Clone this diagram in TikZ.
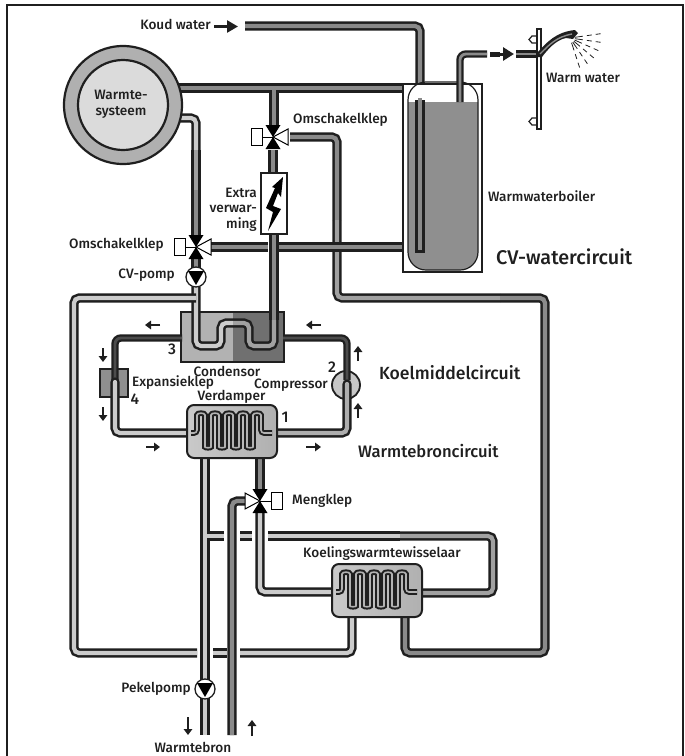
\documentclass[tikz,border=0pt]{standalone}
\usepackage{fontspec}
\setmainfont{Fira Sans Medium}
\usetikzlibrary{positioning, shapes, arrows.meta}

\definecolor{coreD}{gray}{0.54}
\definecolor{coreM}{gray}{0.63}
\definecolor{coreL}{gray}{0.80}
\definecolor{coreK}{gray}{0.30}
\definecolor{lineK}{gray}{0.12}

\tikzset{
  pipe/.style={draw=lineK, line width=2.5pt, double=#1, double distance=4.2pt, rounded corners=5pt},
  pipe/.default=coreD,
  thinpipe/.style={draw=lineK, line width=2.3pt, double=#1, double distance=2.8pt, rounded corners=6pt},
  coil/.style={draw=lineK, line width=2pt, double=gray!60, double distance=1.6pt, rounded corners=3pt},
  label/.style={font=\fontsize{13.6pt}{15.6pt}\selectfont, inner sep=0pt, text=lineK},
  biglabel/.style={font=\fontsize{16.6pt}{19pt}\selectfont, inner sep=0pt, text=lineK},
  cijfer/.style={font=\fontsize{15.5pt}{17pt}\selectfont, inner sep=0pt, text=lineK},
  wisselaar/.style={draw=lineK, line width=2pt, rounded corners=7pt, left color=gray!42, middle color=gray!28, right color=gray!62, minimum width=90pt, minimum height=53pt, inner sep=0pt},
  pompbol/.style={draw=lineK, line width=1.3pt, fill=white, circle, minimum size=20pt, inner sep=0pt},
  flow/.style={draw=lineK, line width=2pt, -{Triangle[length=6pt, width=8.5pt]}},
  klep/.pic={
    \fill[black] (-7.5,-12) -- (7.5,-12) -- (0,0) -- cycle;
    \fill[black] (-7.5,12) -- (7.5,12) -- (0,0) -- cycle;
    \draw[fill=white, line width=1pt] (0,0) -- (15,-8) -- (15,8) -- cycle;
    \draw[line width=1pt] (0,0) -- (-11,0);
    \draw[fill=white, line width=1pt] (-22,-8.5) rectangle (-11,8.5);
  },
  pompkop/.pic={
    \fill[black] (-8,-6) -- (8,-6) -- (0,8) -- cycle;
  }
}
\newcommand\boogje{.. controls +(0,-5.5) and +(0,-5.5) .. ++(8,0)}
\newcommand\dalletje{-- ++(0,26) .. controls +(0,4) and +(0,4) .. ++(6,0) -- ++(0,-26)}

\begin{document}
\begin{tikzpicture}[x=1pt, y=-1pt]
  \useasboundingbox (0,0) rectangle (685,756);

  % Frame
  \draw[line width=1.3pt, lineK] (7,756) -- (7,5) -- (683,5) -- (683,756);

  % Points
  \coordinate (KlepBoven) at (273,137);
  \coordinate (KlepLinks) at (196,247);
  \coordinate (KlepMeng) at (260,501);
  \coordinate (CVpomp) at (196,277);
  \coordinate (Pekel) at (205,689);

  % Cold water
  \draw[pipe] (245,26) -- (420,26) -- (420,100);

  % Heating system pipes
  \draw[pipe] (274,88) -- (274,125);
  \draw[pipe] (179,88) -- (403,88);
  \draw[line width=4.2pt, coreD] (274,88) -- (274,95);
  \draw[pipe=coreL] (170,118) -- (196,118) -- (196,150);
  \draw[pipe=coreM] (196,150) -- (196,190);
  \draw[pipe] (196,190) -- (196,235);
  \draw[pipe] (196,255) -- (196,270);
  \draw[pipe] (290,137) -- (337,137) -- (337,220);
  \draw[pipe=coreM] (337,220) -- (337,298) -- (500,298);
  \draw[pipe] (500,298) -- (545,298) -- (545,653) -- (405,653) -- (405,600);
  \draw[pipe] (210,247) -- (268,247);
  \draw[pipe] (278,247) -- (403,247);

  % Condensor
  \node (CondL) [fill=gray!60, minimum width=52pt, minimum height=50pt, inner sep=0pt] at (207,337) {};
  \node (CondR) [fill=black!56, minimum width=51pt, minimum height=50pt, inner sep=0pt] at (258.5,337) {};
  \node (Cond) [draw=lineK, line width=1.6pt, minimum width=103pt, minimum height=50pt, inner sep=0pt] at (232.5,337) {};

  % CV pipes through the condensor
  \draw[pipe=coreL] (196,287) -- (196,346) -- (221,346) -- (221,323) -- (233,323);
  \draw[pipe=coreM] (233,323) -- (249,323) -- (249,346) -- (274,346) -- (274,320);
  \draw[pipe] (274,320) -- (274,234);
  \draw[pipe] (273,150) -- (273,180);

  % Return loop left
  \draw[pipe=coreL] (196,298) -- (74,298) -- (74,653) -- (197,653);
  \draw[line width=4.2pt, coreL] (196,298) -- (189,298);
  \draw[pipe=coreL] (213,653) -- (227,653);
  \draw[pipe=coreL] (240,653) -- (352,653) -- (352,600);

  % Source pipes
  \draw[pipe=coreL] (205,450) -- (205,735);
  \draw[pipe=coreL] (208,536) -- (224,536);
  \draw[line width=4.2pt, coreL] (205,536) -- (212,536);
  \draw[pipe=coreL] (240,536) -- (252,536);
  \draw[pipe=coreL] (268,536) -- (400,536);
  \draw[pipe=coreM] (400,536) -- (493,536) -- (493,593) -- (413,593);
  \draw[pipe] (260,450) -- (260,492);
  \draw[pipe=coreL] (260,512) -- (260,592) -- (343,592);
  \draw[pipe] (232,735) -- (232,501) -- (245,501);

  % Refrigerant parts
  \node (Expansie) [draw=lineK, line width=2pt, fill=gray!88, minimum width=28pt, minimum height=28pt, inner sep=0pt] at (114,383) {};
  \node (Comp) [draw=lineK, line width=1.8pt, fill=gray!44, circle, minimum size=28pt, inner sep=0pt] at (346,385) {};
  \draw[thinpipe=coreK] (182,338) -- (115,338) -- (115,380);
  \draw[thinpipe=coreK] (283,338) -- (347,338) -- (347,380);
  \draw[pipe=coreL, line cap=round] (115,382) -- (115,433) -- (197,433);
  \draw[pipe=coreM!70!coreL, line cap=round] (347,384) -- (347,433) -- (268,433);

  % Verdamper
  \node (Verdamper) [wisselaar] at (232,431.5) {};
  \draw[coil] (191,433) -- (197,433) -- (197,418) \boogje \dalletje \boogje \dalletje \boogje \dalletje \boogje \dalletje \boogje -- (261,433) -- (272,433);

  % Koelingswarmtewisselaar
  \node (Koeling) [wisselaar] at (377,590.5) {};
  \draw[coil, shift={(145,159)}] (191,433) -- (197,433) -- (197,418) \boogje \dalletje \boogje \dalletje \boogje \dalletje \boogje \dalletje \boogje -- (261,433) -- (272,433);

  % Boiler
  \node (Kast) [draw=lineK, line width=2pt, fill=white, minimum width=79pt, minimum height=188pt, inner sep=0pt] at (442.5,178) {};
  \fill[gray!88] (408,102) -- (478,102) [rounded corners=18pt] -- (478,270) -- (408,270) [sharp corners] -- cycle;
  \node (Boiler) [draw=lineK, line width=1.2pt, rounded corners=18pt, minimum width=70pt, minimum height=188pt, inner sep=0pt] at (443,176) {};
  \draw[pipe] (420,100) -- (420,252);
  \draw[line width=9.2pt, lineK] (420,250) -- (420,253);
  \draw[line width=4.2pt, coreD] (420,98) -- (420,102);
  \draw[thinpipe=coreD] (460,102) -- (460,54) -- (487,54);
  \draw[thinpipe=coreD] (516,54) -- (537,54);
  \draw[line width=5pt, lineK] (490,54) -- (500,54);
  \draw[-{Triangle[length=11pt, width=13pt]}, line width=3pt, lineK] (500,54) -- (514,54);

  % Shower
  \draw[line width=1.2pt, lineK] (540,36) -- (532,36) -- (529,39.5) -- (532,43) -- (540,43);
  \draw[line width=1.2pt, lineK] (540,118) -- (532,118) -- (529,121.5) -- (532,125) -- (540,125);
  \node (Stang) [draw=lineK, line width=1.2pt, fill=white, minimum width=4pt, minimum height=100pt, inner sep=0pt] at (539,79) {};
  \fill[lineK] (537,53) .. controls (547,42) and (556,32) .. (575,30) -- (578,33) -- (573,39) -- (566,38) .. controls (556,40) and (548,49) .. (542,57) -- (537,57) -- cycle;
  \draw[line width=1.4pt, gray!90] (540,54) .. controls (549,45) and (556,37) .. (572,34);
  \foreach \a in {-8,8,...,72}{
    \draw[line width=0.8pt, lineK] (570,38) ++(\a:5) -- ++(\a:8);
    \draw[line width=0.8pt, lineK] (570,38) ++(\a:17) -- ++(\a:5);
    \draw[line width=0.8pt, lineK] (570,38) ++(\a:26) -- ++(\a:5);
  }

  % Warmtesysteem
  \node (Ring) [draw=lineK, line width=2.2pt, fill=gray!62, circle, minimum size=118pt, inner sep=0pt] at (123,105) {};
  \node (Warmte) [draw=lineK, line width=2.2pt, fill=gray!28, circle, minimum size=90pt, inner sep=0pt] at (123,105) {};
  \node[label, align=center] at (121,104.5) {Warmte-\\systeem};

  % Extra heater
  \node (Heater) [draw=lineK, line width=2pt, fill=white, minimum width=26pt, minimum height=61pt, inner sep=0pt] at (274,203.5) {};
  \fill[black] (283,177) -- (281,197) -- (278,193) -- (273,206) -- (281,209) -- (268,231) -- (273,212) -- (266,208) -- (275,188) -- (272,187) -- cycle;

  % Valves and pumps
  \pic at (KlepBoven) {klep};
  \pic at (KlepLinks) {klep};
  \pic[xscale=-1] at (KlepMeng) {klep};
  \node (PompCV) [pompbol] at (CVpomp) {};
  \pic at (CVpomp) {pompkop};
  \node (PompPekel) [pompbol] at (Pekel) {};
  \pic at (Pekel) {pompkop};

  % Flow arrows
  \draw[line width=2.5pt, lineK, -{Triangle[length=11pt, width=12pt]}] (214,26.5) -- (238,26.5);
  \draw[flow] (160,325) -- (145,325);
  \draw[flow] (321,325) -- (306,325);
  \draw[flow] (103,348) -- (103,362);
  \draw[flow] (103,407) -- (103,421);
  \draw[flow] (146,447) -- (160,447);
  \draw[flow] (306,447) -- (321,447);
  \draw[flow] (358,361) -- (358,346);
  \draw[flow] (358,418) -- (358,403);
  \draw[flow] (188,717) -- (188,735);
  \draw[flow] (252,736) -- (252,720);

  % Labels
  \node[label, anchor=east] at (211,24) {Koud water};
  \node[label, anchor=west] at (293,120) {Omschakelklep};
  \node[label, anchor=east, align=right] at (257,209.5) {Extra\hspace{4pt}\\verwar-\\ming};
  \node[label, anchor=east] at (164,245) {Omschakelklep};
  \node[label, anchor=east] at (175,275) {CV-pomp};
  \node[label, anchor=west] at (546,78) {Warm water};
  \node[label, anchor=west] at (488,196) {Warmwaterboiler};
  \node[biglabel, anchor=west, font=\fontsize{19.8pt}{22pt}\selectfont] at (496,257) {CV-watercircuit};
  \node[biglabel, anchor=west, font=\fontsize{17.6pt}{19pt}\selectfont] at (379,373) {Koelmiddelcircuit};
  \node[biglabel, anchor=west] at (358,451) {Warmtebroncircuit};
  \node[label] at (227,371) {Condensor};
  \node[label, anchor=west] at (132,383) {Expansieklep};
  \node[label, anchor=east] at (328,385) {Compressor};
  \node[label] at (231.5,397) {Verdamper};
  \node[cijfer] at (285,417) {1};
  \node[cijfer] at (332,367) {2};
  \node[cijfer] at (172,349) {3};
  \node[cijfer] at (135,399) {4};
  \node[label, anchor=west] at (292,501) {Mengklep};
  \node[label] at (382,554) {Koelingswarmtewisselaar};
  \node[label, anchor=east] at (191,689) {Pekelpomp};
  \node[label] at (193,747) {Warmtebron};
\end{tikzpicture}
\end{document}
